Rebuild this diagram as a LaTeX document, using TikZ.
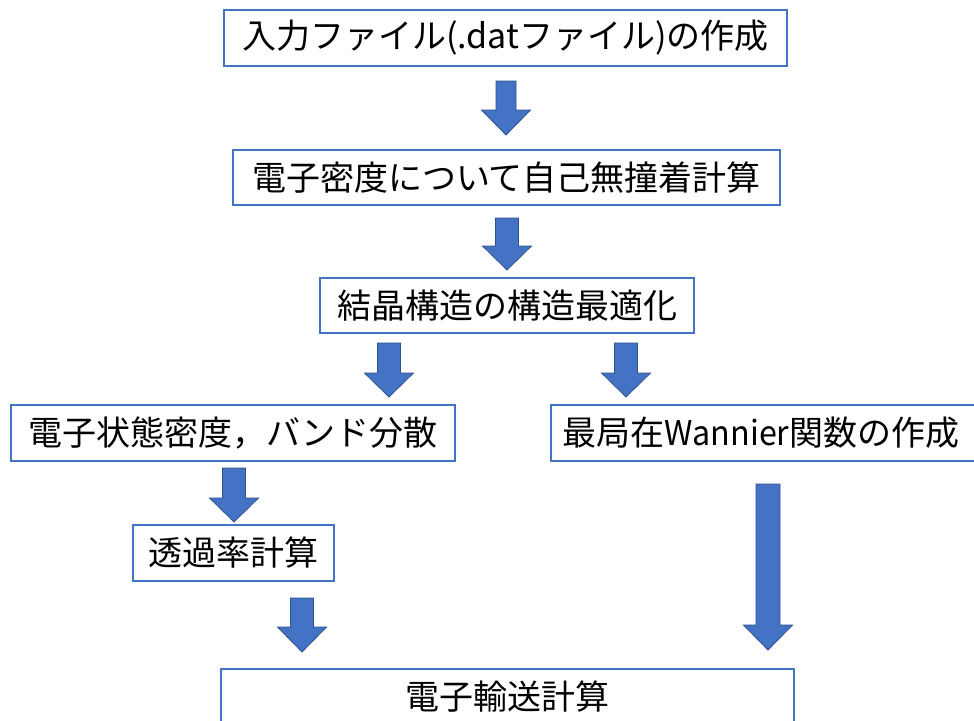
\documentclass[tikz,border=0pt]{standalone}
\usepackage{fontspec}
\usepackage{graphicx}
\newfontfamily\jp{Noto Sans CJK JP}
\definecolor{boxblue}{HTML}{4472C4}
\definecolor{arrowline}{HTML}{2F528F}
\tikzset{
  flowbox/.style={draw=boxblue, line width=1.5pt, fill=white, rectangle, inner sep=0pt,
    font=\jp\fontsize{34}{40}\selectfont, text=black, anchor=center},
  blockarr/.style={fill=boxblue, draw=arrowline, line width=0.8pt, line join=miter}
}
\newcommand\blockarrow[6]{% name, x, ytop, yhead, ytip, half shaft
  \coordinate (#1) at (#2,#3);
  \filldraw[blockarr] (#2-#6,#3) -- (#2+#6,#3) -- (#2+#6,#4) -- (#2+24.5,#4) -- (#2,#5)
    -- (#2-24.5,#4) -- (#2-#6,#4) -- cycle;}
\begin{document}
\begin{tikzpicture}[x=1pt,y=-1pt]
\useasboundingbox[fill=white] (0,0) rectangle (974,720);
\node[flowbox, minimum width=563pt, minimum height=56pt] (b1) at (505.5,38) {入力ファイル(.datファイル)の作成};
\node[flowbox, minimum width=547pt, minimum height=55pt] (b2) at (506.5,177.5) {電子密度について自己無撞着計算};
\node[flowbox, minimum width=374pt, minimum height=55pt] (b3) at (507,305.5) {結晶構造の構造最適化};
\node[flowbox, minimum width=444pt, minimum height=56pt] (b4) at (233,433) {電子状態密度，バンド分散};
\node[flowbox, minimum height=56pt, anchor=west, inner xsep=12pt, text width=440pt, align=left] (b5) at (550,433) {最局在\scalebox{0.95}[1]{Wannier}関数の作成};
\node[flowbox, minimum width=201pt, minimum height=56pt] (b6) at (233.5,553) {透過率計算};
\node[flowbox, minimum width=573pt, minimum height=56pt] (b7) at (507.5,697) {電子輸送計算};
\blockarrow{a1}{506}{81}{110}{135}{10}
\blockarrow{a2}{507}{218}{246}{270}{11.5}
\blockarrow{a3}{389}{343}{373}{397}{11.5}
\blockarrow{a4}{626}{343}{373}{397}{11.5}
\blockarrow{a5}{234}{468}{498}{522}{11.5}
\blockarrow{a6}{302}{598}{627}{652}{11.5}
\blockarrow{a7}{768}{484}{625}{650}{12}
\end{tikzpicture}
\end{document}
